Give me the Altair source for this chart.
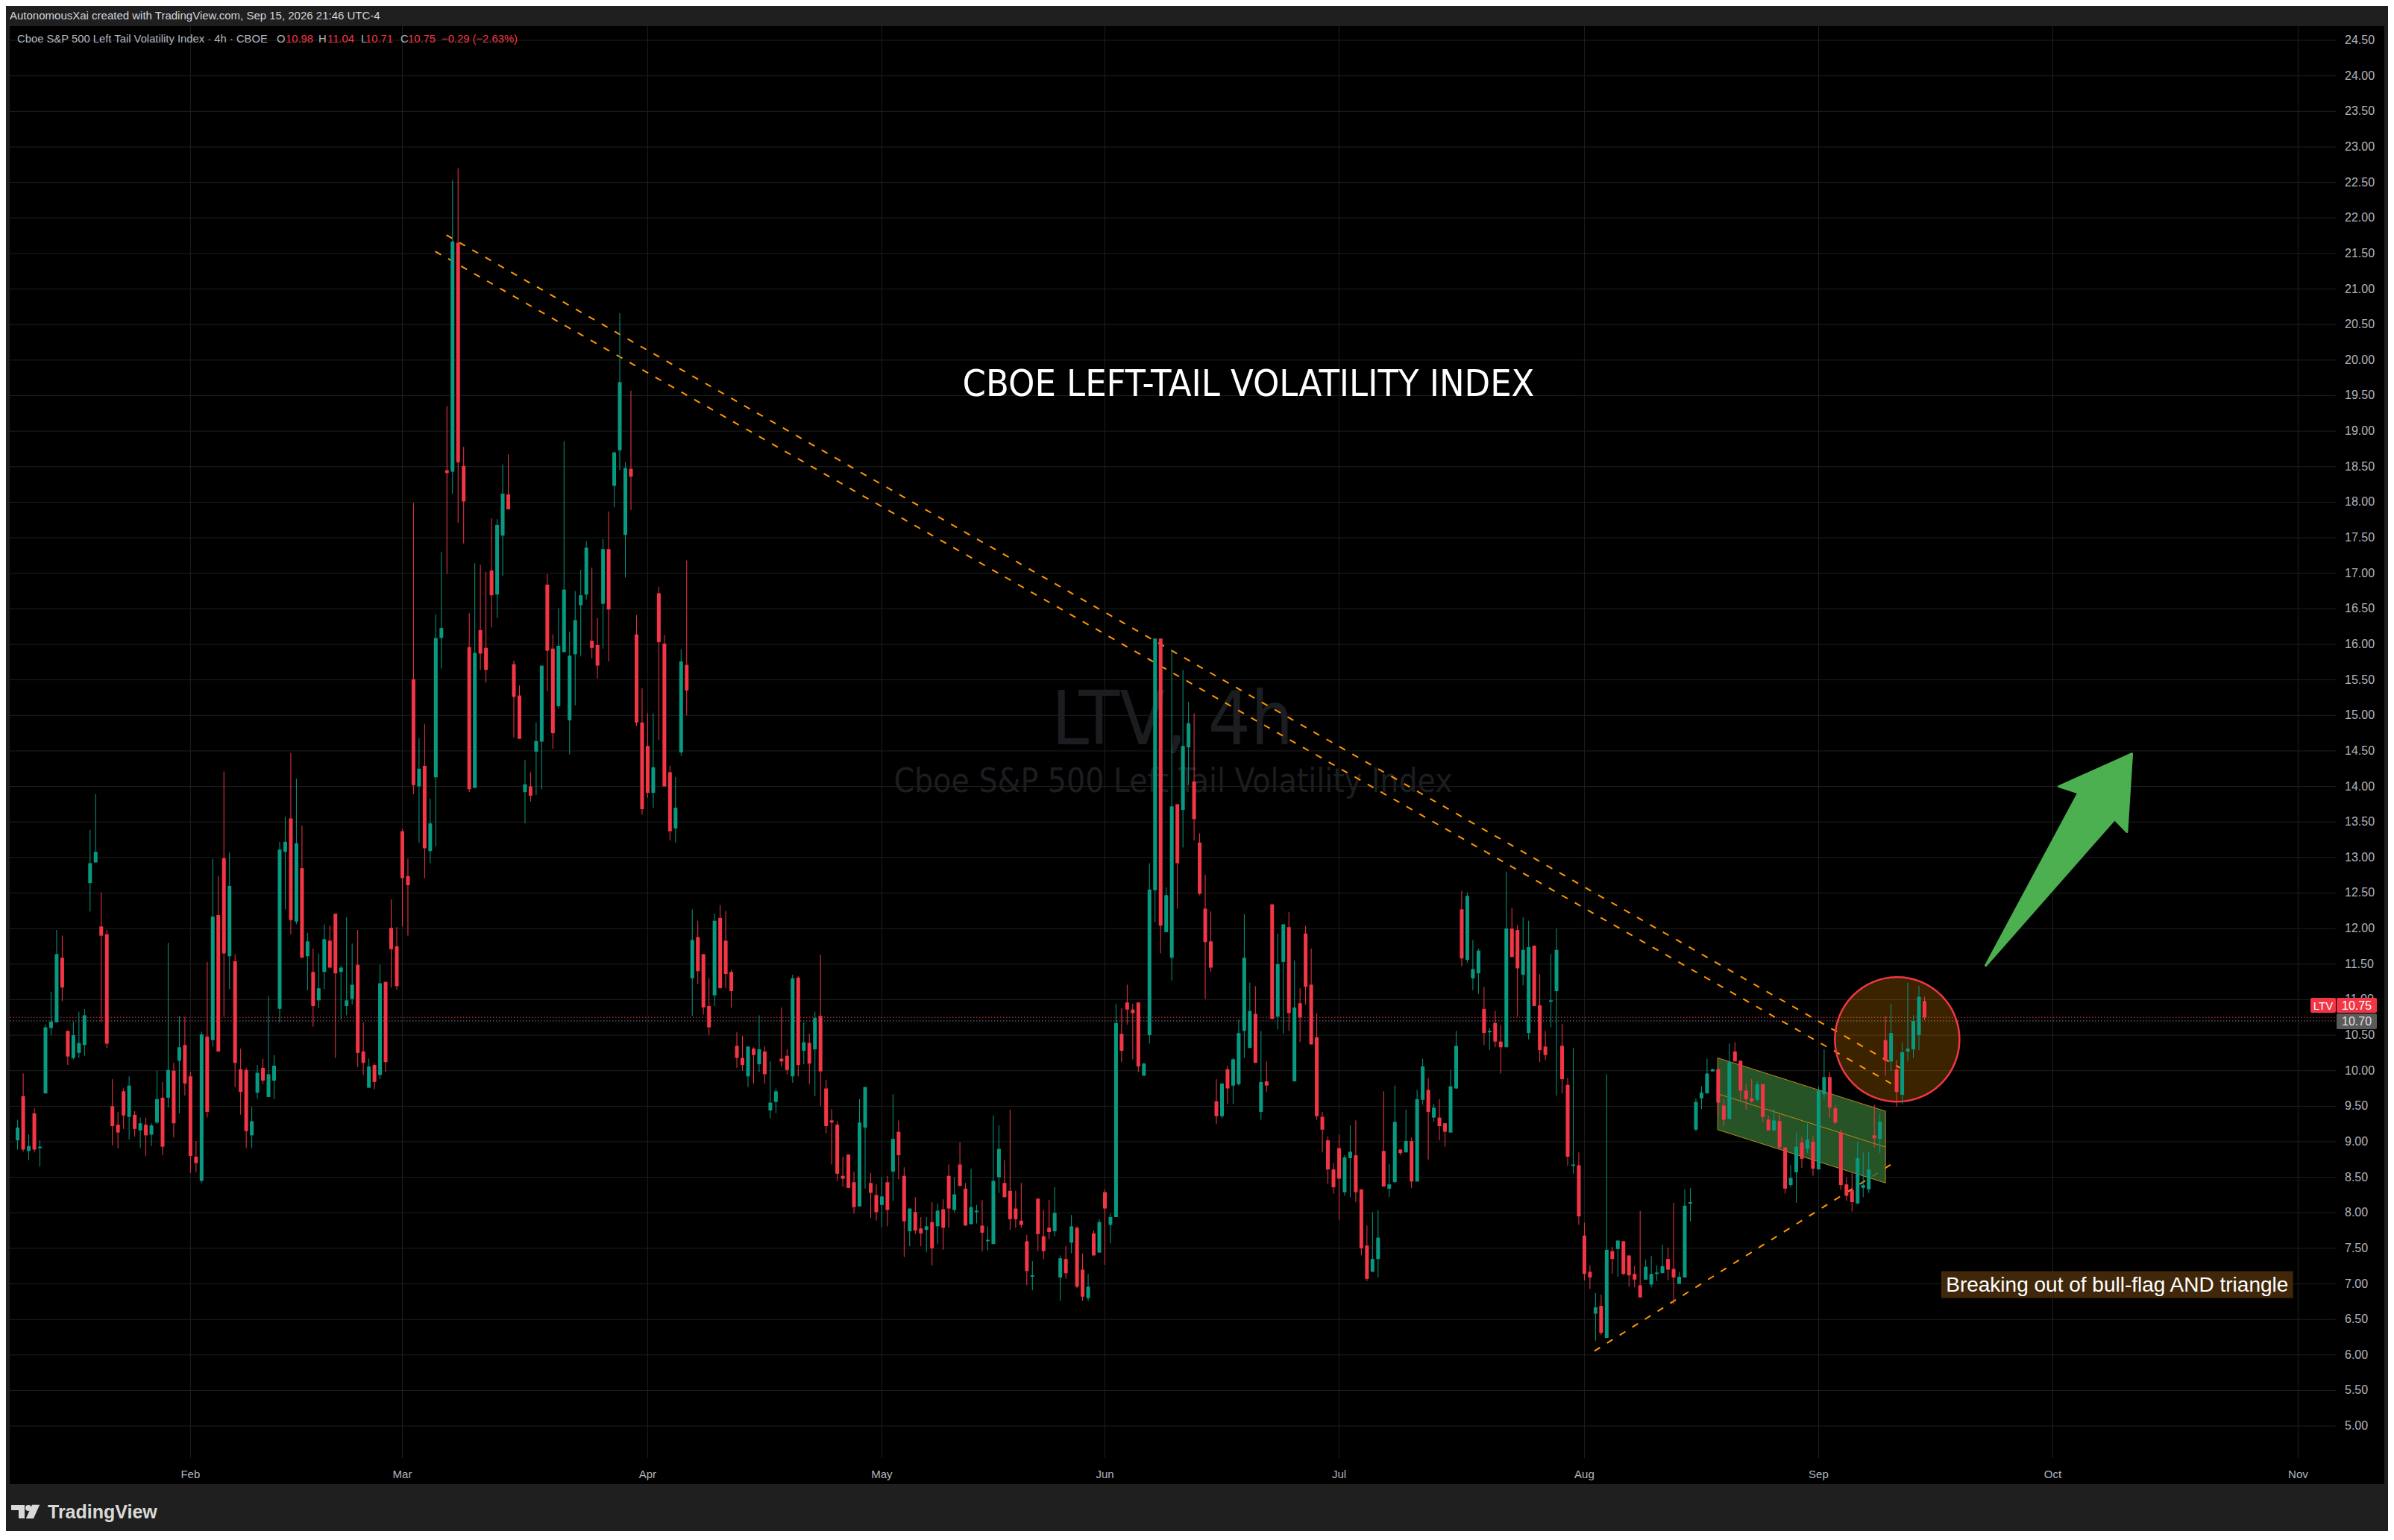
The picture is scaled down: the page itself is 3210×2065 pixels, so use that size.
import altair as alt
import pandas as pd

# ---------------- data (4h candles, bar index 0..342) ----------------
OPEN = [
 9.02, 9.64, 8.87, 9.40, 8.91, 9.68, 10.60, 10.68, 11.59, 10.56,
 10.18, 10.25, 10.36, 12.64, 12.93, 12.03, 11.92, 9.50, 9.24, 9.71,
 9.35, 9.38, 9.16, 9.24, 9.10, 9.27, 9.62, 9.62, 10.00, 10.14,
 10.36, 9.92, 8.79, 8.45, 10.48, 10.43, 12.19, 12.99, 11.61, 11.54,
 10.02, 10.01, 9.09, 9.69, 10.04, 9.63, 9.86, 10.87, 13.08, 13.55,
 12.10, 12.85, 11.61, 11.39, 10.99, 11.39, 11.83, 12.21, 11.39, 10.91,
 11.01, 11.49, 10.27, 9.76, 10.08, 9.94, 11.25, 12.01, 11.75, 13.37,
 12.74, 15.51, 14.00, 14.29, 13.09, 14.13, 16.09, 18.45, 18.43, 21.65,
 18.51, 15.96, 13.98, 16.20, 15.95, 17.04, 16.70, 17.53, 18.11, 15.72,
 15.28, 13.92, 14.00, 14.49, 14.63, 16.84, 15.94, 15.13, 15.89, 14.93,
 15.86, 16.55, 16.70, 16.05, 15.99, 16.57, 17.34, 18.23, 18.73, 17.54,
 18.47, 16.14, 14.90, 14.57, 13.91, 16.72, 16.01, 14.20, 13.41, 14.48,
 15.71, 11.30, 11.88, 11.64, 10.91, 11.06, 12.15, 11.83, 11.39, 10.35,
 10.18, 9.92, 10.31, 10.09, 10.27, 9.44, 9.56, 10.17, 10.21, 9.92,
 11.31, 10.28, 10.39, 10.30, 10.77, 9.75, 9.30, 9.24, 8.52, 8.82,
 8.43, 8.09, 9.20, 8.42, 8.25, 8.11, 8.43, 8.58, 9.14, 8.52,
 7.74, 8.01, 7.78, 7.76, 7.87, 7.81, 8.05, 8.52, 8.04, 8.68,
 8.34, 7.84, 8.01, 7.82, 7.60, 7.56, 8.50, 8.42, 8.31, 8.06,
 7.89, 7.60, 7.10, 8.20, 7.67, 7.79, 7.74, 7.09, 7.35, 7.58,
 7.79, 7.20, 6.80, 7.71, 7.44, 8.29, 7.83, 7.94, 10.52, 10.96,
 10.86, 10.96, 9.93, 10.50, 12.54, 16.08, 11.95, 11.59, 13.75, 13.67,
 14.55, 14.07, 13.21, 12.28, 11.82, 9.57, 9.36, 10.02, 9.79, 9.81,
 10.56, 10.32, 10.80, 9.42, 9.85, 12.34, 10.76, 11.53, 12.02, 9.85,
 10.95, 11.93, 11.21, 10.47, 9.35, 9.02, 8.61, 8.91, 8.29, 8.77,
 8.81, 8.33, 7.54, 7.17, 7.35, 8.87, 8.34, 8.43, 8.89, 8.85,
 9.01, 8.44, 9.59, 9.73, 9.34, 9.34, 9.26, 9.13, 9.75, 12.27,
 11.56, 11.30, 11.37, 10.87, 10.54, 10.67, 10.41, 10.33, 12.00, 11.98,
 11.35, 10.53, 11.76, 10.92, 10.34, 10.97, 11.12, 10.35, 9.80, 8.66,
 8.67, 7.68, 7.17, 6.58, 6.69, 6.24, 7.46, 7.49, 7.60, 7.40,
 7.14, 6.98, 7.06, 6.99, 7.14, 7.15, 7.35, 7.21, 7.00, 7.09,
 8.13, 9.17, 9.61, 9.68, 9.99, 10.02, 9.51, 9.32, 10.27, 10.14,
 9.72, 9.61, 9.59, 9.81, 9.31, 9.16, 9.29, 8.92, 8.39, 8.57,
 8.99, 8.90, 9.00, 8.61, 9.67, 9.91, 9.47, 9.13, 8.40, 8.32,
 8.13, 8.35, 8.33, 9.09, 9.04, 10.43, 10.13, 10.02, 9.66, 10.27,
 10.30, 10.50, 10.98]
HIGH = [
 9.31, 9.96, 9.10, 9.47, 9.02, 10.65, 11.11, 11.98, 11.90, 10.56,
 10.69, 10.83, 10.87, 13.39, 13.89, 12.51, 11.98, 9.88, 9.42, 9.75,
 9.92, 9.43, 9.34, 9.34, 9.26, 10.00, 9.84, 11.80, 10.11, 10.77,
 10.76, 9.98, 9.01, 10.55, 11.53, 12.98, 12.74, 14.21, 13.07, 11.64,
 10.31, 10.04, 9.49, 10.08, 10.17, 11.05, 10.22, 13.22, 13.57, 14.47,
 14.11, 13.45, 11.94, 11.72, 11.65, 12.06, 12.04, 12.21, 11.48, 12.16,
 11.79, 11.98, 10.68, 10.17, 10.10, 11.49, 11.25, 12.41, 12.02, 13.40,
 12.98, 17.99, 14.68, 14.88, 13.83, 16.42, 17.30, 19.35, 22.53, 22.70,
 18.78, 16.44, 17.14, 17.12, 17.02, 17.77, 17.76, 18.53, 18.67, 15.77,
 15.42, 14.37, 14.20, 14.90, 15.70, 16.99, 16.14, 16.51, 18.86, 16.18,
 16.75, 17.05, 17.45, 17.08, 16.37, 17.48, 17.87, 18.71, 20.66, 18.56,
 19.57, 16.41, 15.38, 15.03, 15.03, 16.81, 16.13, 14.29, 14.13, 15.93,
 17.18, 12.27, 12.11, 11.64, 11.30, 12.21, 12.33, 12.25, 11.42, 10.54,
 10.49, 10.34, 10.33, 10.78, 10.34, 10.13, 9.75, 10.89, 10.30, 11.35,
 11.33, 10.68, 10.52, 10.83, 11.63, 9.87, 9.46, 9.29, 8.79, 8.82,
 8.58, 9.60, 9.77, 8.56, 8.40, 8.50, 8.52, 9.67, 9.30, 8.64,
 8.06, 8.22, 7.94, 7.94, 8.15, 8.13, 8.19, 8.68, 8.50, 8.99,
 8.42, 8.62, 8.11, 8.18, 7.81, 9.37, 9.23, 8.74, 9.45, 8.31,
 8.42, 7.69, 7.32, 8.20, 8.04, 8.18, 8.36, 7.40, 7.53, 7.97,
 7.81, 7.43, 7.14, 7.75, 7.91, 8.33, 7.99, 10.94, 10.88, 11.21,
 10.94, 10.96, 10.11, 12.92, 16.08, 16.08, 12.58, 15.92, 13.75, 15.64,
 15.19, 15.03, 13.34, 12.76, 12.24, 9.88, 9.82, 10.07, 10.18, 10.72,
 12.20, 11.24, 11.19, 10.56, 10.13, 12.35, 11.93, 12.06, 12.23, 11.55,
 11.16, 12.04, 11.72, 10.81, 9.42, 9.07, 8.70, 9.10, 8.81, 9.23,
 9.30, 8.33, 7.82, 8.01, 8.04, 9.71, 8.69, 9.79, 8.89, 9.45,
 9.06, 9.73, 10.17, 9.90, 9.53, 9.60, 9.26, 10.01, 10.56, 12.53,
 12.51, 11.84, 11.72, 11.18, 10.60, 10.84, 10.64, 12.80, 12.29, 12.05,
 12.16, 12.11, 11.76, 11.36, 10.56, 11.64, 12.00, 10.66, 9.90, 10.32,
 8.85, 7.86, 7.26, 6.87, 6.85, 9.95, 7.52, 7.61, 7.60, 7.40,
 7.25, 8.03, 7.34, 7.39, 7.26, 7.55, 7.51, 8.14, 7.17, 8.33,
 8.35, 9.61, 9.78, 10.17, 10.03, 10.02, 9.60, 10.38, 10.40, 10.14,
 9.81, 9.88, 9.85, 9.81, 9.37, 9.46, 9.39, 8.92, 8.67, 9.13,
 9.07, 9.26, 9.08, 9.78, 10.30, 9.98, 9.51, 9.17, 8.50, 8.56,
 9.00, 8.85, 8.86, 9.52, 9.40, 10.77, 10.94, 10.15, 10.40, 11.24,
 10.78, 11.19, 11.04]
LOW = [
 8.89, 8.86, 8.74, 8.85, 8.65, 9.68, 10.50, 10.68, 10.98, 10.08,
 10.16, 10.18, 10.21, 12.24, 12.93, 10.69, 10.32, 8.95, 8.91, 9.18,
 9.03, 9.07, 8.91, 8.80, 8.94, 9.25, 8.81, 9.48, 9.06, 9.40,
 9.65, 8.56, 8.57, 8.42, 9.34, 10.34, 10.27, 10.76, 11.15, 9.77,
 9.38, 8.91, 8.91, 9.61, 9.81, 9.63, 9.60, 10.68, 12.27, 11.92,
 12.06, 11.59, 11.13, 10.62, 10.88, 11.15, 11.45, 10.18, 10.72, 10.78,
 10.93, 10.05, 9.94, 9.76, 9.74, 9.88, 9.98, 11.17, 11.14, 12.03,
 11.90, 13.89, 13.21, 12.71, 12.92, 13.16, 15.66, 16.99, 18.12, 17.71,
 17.42, 13.92, 13.98, 15.64, 15.46, 16.24, 16.37, 16.96, 17.90, 14.69,
 14.67, 13.48, 13.79, 13.88, 13.96, 15.34, 14.53, 15.10, 15.89, 14.45,
 15.14, 15.83, 16.63, 15.80, 15.52, 15.94, 15.76, 17.93, 18.45, 16.94,
 17.89, 14.85, 13.60, 13.84, 13.70, 14.65, 14.00, 13.24, 13.21, 14.43,
 15.00, 10.77, 11.22, 10.79, 10.50, 10.91, 11.16, 11.16, 10.89, 10.04,
 10.00, 9.77, 9.82, 9.98, 9.82, 9.33, 9.40, 10.06, 9.95, 9.83,
 9.92, 10.09, 9.81, 9.64, 9.50, 9.12, 8.68, 8.45, 8.37, 8.35,
 7.99, 8.09, 8.34, 7.93, 7.89, 7.80, 7.81, 8.17, 8.47, 7.38,
 7.53, 7.70, 7.53, 7.45, 7.26, 7.56, 7.48, 7.79, 8.00, 8.37,
 7.82, 7.84, 7.85, 7.46, 7.47, 7.56, 8.28, 8.22, 7.76, 7.79,
 7.79, 6.98, 6.91, 7.46, 7.35, 7.63, 7.67, 6.76, 7.07, 7.43,
 6.94, 6.76, 6.76, 7.40, 7.44, 7.27, 7.57, 7.94, 10.12, 10.65,
 10.16, 9.98, 9.93, 10.38, 12.09, 11.65, 11.95, 11.27, 12.28, 13.14,
 14.02, 13.24, 12.47, 11.01, 11.39, 9.25, 9.33, 9.53, 9.53, 9.79,
 10.18, 10.32, 10.11, 9.31, 9.70, 10.73, 10.58, 10.52, 10.56, 9.85,
 10.40, 10.93, 10.37, 9.31, 8.85, 8.41, 8.27, 7.90, 8.24, 8.22,
 8.15, 7.40, 7.04, 7.17, 7.09, 8.37, 8.22, 8.43, 8.81, 8.85,
 8.35, 8.44, 9.52, 8.75, 9.28, 9.02, 8.93, 9.13, 9.74, 11.47,
 11.52, 11.13, 11.08, 10.36, 10.29, 10.33, 9.96, 10.33, 11.60, 10.76,
 11.20, 10.44, 10.91, 10.12, 10.15, 10.61, 9.65, 9.68, 8.66, 8.55,
 7.83, 7.05, 6.93, 6.20, 6.28, 6.24, 7.14, 7.10, 7.12, 6.96,
 6.95, 6.81, 7.06, 6.95, 7.04, 7.15, 7.05, 6.71, 7.00, 7.09,
 7.88, 9.15, 9.46, 9.68, 9.99, 9.37, 9.22, 9.32, 10.13, 9.58,
 9.45, 9.55, 9.57, 9.28, 9.16, 9.16, 8.89, 8.27, 8.36, 8.14,
 8.63, 8.84, 8.52, 8.61, 9.60, 9.34, 9.25, 8.32, 8.17, 8.02,
 8.13, 8.22, 8.28, 8.92, 8.84, 9.93, 10.00, 9.49, 9.53, 10.13,
 10.18, 10.29, 10.71]
CLOSE = [
 9.20, 8.89, 8.94, 8.89, 8.93, 10.61, 10.69, 11.64, 11.17, 10.20,
 10.50, 10.39, 10.78, 12.92, 13.08, 11.90, 10.38, 9.22, 9.13, 9.37,
 9.79, 9.18, 9.26, 9.09, 9.23, 9.60, 8.93, 10.01, 9.26, 10.33,
 9.82, 8.80, 8.70, 10.51, 9.42, 12.17, 10.27, 11.65, 12.60, 10.11,
 9.70, 9.15, 9.29, 9.97, 9.86, 9.95, 10.07, 13.11, 13.22, 12.12,
 13.20, 11.59, 11.82, 10.91, 11.16, 11.85, 11.45, 11.37, 11.45, 10.99,
 11.21, 10.25, 10.11, 10.06, 9.84, 11.23, 10.12, 11.71, 11.19, 12.71,
 12.61, 14.02, 14.25, 13.13, 13.48, 16.09, 16.23, 18.41, 21.67, 18.56,
 18.01, 13.96, 15.88, 15.87, 15.64, 16.69, 17.68, 18.12, 17.90, 15.26,
 14.67, 14.03, 13.87, 14.64, 15.70, 15.91, 14.75, 15.98, 16.77, 15.84,
 16.34, 16.69, 17.36, 15.95, 15.70, 17.34, 16.49, 18.70, 19.69, 18.48,
 18.36, 14.90, 13.68, 13.91, 14.27, 16.03, 14.00, 13.37, 13.70, 15.76,
 15.35, 11.84, 11.40, 10.89, 10.61, 12.11, 11.16, 11.36, 11.12, 10.18,
 10.08, 10.34, 10.22, 10.30, 9.95, 9.55, 9.71, 10.13, 10.01, 11.30,
 10.08, 10.40, 10.10, 10.74, 9.99, 9.22, 9.27, 8.55, 8.48, 8.35,
 8.08, 9.27, 9.77, 8.28, 8.01, 8.23, 8.04, 9.04, 8.81, 7.88,
 8.06, 7.75, 7.71, 7.81, 7.50, 8.03, 7.79, 8.06, 8.26, 8.38,
 7.82, 8.08, 8.03, 7.72, 7.62, 8.45, 8.90, 8.22, 7.91, 7.91,
 7.83, 7.18, 7.12, 7.70, 7.46, 7.73, 8.00, 7.36, 7.15, 7.81,
 6.96, 6.82, 6.96, 7.40, 7.87, 8.06, 7.94, 10.67, 10.28, 10.86,
 10.81, 10.06, 10.10, 12.55, 16.08, 12.04, 12.47, 13.72, 12.92, 14.57,
 14.89, 13.54, 12.49, 11.81, 11.45, 9.36, 9.82, 9.75, 10.16, 10.53,
 11.59, 10.84, 10.11, 9.84, 9.79, 10.73, 11.50, 12.06, 10.81, 10.89,
 10.75, 11.18, 10.37, 9.36, 9.17, 8.61, 8.36, 8.48, 8.78, 8.86,
 8.29, 7.50, 7.07, 7.35, 7.65, 8.37, 8.40, 9.28, 8.84, 9.01,
 8.44, 9.60, 10.06, 9.42, 9.48, 9.22, 9.14, 9.78, 10.35, 11.58,
 12.46, 11.43, 11.69, 10.53, 10.56, 10.41, 10.33, 12.00, 11.60, 11.44,
 11.70, 11.74, 10.91, 10.29, 10.22, 10.99, 11.70, 9.88, 8.79, 8.68,
 7.95, 7.14, 7.09, 6.67, 6.31, 7.48, 7.35, 7.61, 7.14, 7.12,
 7.06, 6.81, 7.24, 7.14, 7.16, 7.25, 7.20, 7.09, 7.10, 8.10,
 8.15, 9.56, 9.69, 9.96, 10.02, 9.55, 9.31, 10.12, 10.13, 9.72,
 9.60, 9.57, 9.81, 9.35, 9.16, 9.30, 8.92, 8.34, 8.49, 8.93,
 8.76, 9.03, 8.62, 9.72, 9.91, 9.48, 9.27, 8.39, 8.24, 8.15,
 8.77, 8.39, 8.61, 9.05, 9.28, 10.14, 10.53, 9.70, 10.26, 10.31,
 10.70, 11.04, 10.75]

MONTHS = ["Feb", "Mar", "Apr", "May", "Jun", "Jul", "Aug", "Sep", "Oct", "Nov"]
MONTH_BAR = [31, 69, 113, 155, 195, 237, 281, 323, 365, 409]
PRICE_TICKS = [5.0 + 0.5 * k for k in range(40)]

# drawings (bar index, price)
TREND_ID = ["upper", "upper", "lower", "lower", "rise", "rise"]
TREND_X = [76.9, 337.6, 74.9, 336.0, 282.8, 336.2]
TREND_Y = [21.76, 10.04, 21.53, 9.82, 6.055, 8.69]

FLAG_X = [304.9, 335.0, 335.0, 304.9, 304.9]
FLAG_Y = [10.18, 9.43, 8.42, 9.17, 10.18]
FLAG_MID_X = [304.9, 335.0]
FLAG_MID_Y = [9.675, 8.925]

CIRCLE_X = [337.1]
CIRCLE_Y = [10.44]

ARROW_X = [352.9, 369.6, 366.1, 379.2, 378.3, 376.1, 352.9]
ARROW_Y = [11.47, 13.91, 14.00, 14.46, 13.36, 13.54, 11.47]

NOTE_TEXT = "Breaking out of bull-flag AND triangle"
NOTE_BOX_X = [345.0, 408.1]
NOTE_BOX_Y = [6.80, 7.18]

LAST_PRICE = 10.75
PREV_CLOSE = 10.70

assert len(OPEN) == len(HIGH) == len(LOW) == len(CLOSE) == 343

# ---------------- styling ----------------
W, H = 3119, 1920
PAD = {"left": 5, "top": 27, "right": 70, "bottom": 98}
RIGHT_EDGE = W + PAD["right"]
BOTTOM_EDGE = H + PAD["bottom"]
GREEN = "#089981"
RED = "#f23645"
ORANGE = "#ff9800"
FRAME = "#1f1f1f"
GRID = "#1f1f1f"
AXIS_TXT = "#b2b5be"
UI = "Liberation Sans, Arial, sans-serif"
NARROW = "Liberation Sans Narrow, DejaVu Sans Condensed, Roboto Condensed, Liberation Sans, sans-serif"

XS = alt.Scale(domain=[-0.75, 415.1], nice=False, zero=False)
YS = alt.Scale(domain=[4.55, 24.70], nice=False, zero=False)

df = pd.DataFrame({"i": range(len(OPEN)), "open": OPEN, "high": HIGH,
                   "low": LOW, "close": CLOSE})
one = pd.DataFrame({"a": [0]})
price_df = pd.DataFrame({"p": PRICE_TICKS, "lbl": [f"{v:.2f}" for v in PRICE_TICKS]})
month_df = pd.DataFrame({"m": MONTH_BAR, "lbl": MONTHS})

cond = alt.condition("datum.close >= datum.open", alt.value(GREEN), alt.value(RED))


def X(field):
    return alt.X(field, scale=XS, axis=None)


def Y(field):
    return alt.Y(field, scale=YS, axis=None)


def px_rect(x0, x1, y0, y1, color, **kw):
    return alt.Chart(one).mark_rect(color=color, **kw).encode(
        x=alt.value(x0), x2=alt.value(x1), y=alt.value(y0), y2=alt.value(y1))


def px_text(x, y, txt, **kw):
    return alt.Chart(one).mark_text(text=txt, **kw).encode(x=alt.value(x), y=alt.value(y))


layers = []

# grid
layers.append(alt.Chart(price_df).mark_rule(color=GRID, strokeWidth=1).encode(
    y=Y("p:Q"), x=alt.value(0), x2=alt.value(W)))
layers.append(alt.Chart(month_df).mark_rule(color=GRID, strokeWidth=1).encode(
    x=X("m:Q"), y=alt.value(0), y2=alt.value(H)))

# frame around black panel
layers += [
    px_rect(-13, RIGHT_EDGE, -35, 0, FRAME),
    px_rect(-13, 0, -35, BOTTOM_EDGE, FRAME),
    px_rect(3184, RIGHT_EDGE, -35, BOTTOM_EDGE, FRAME),
    px_rect(-13, RIGHT_EDGE, 1955, BOTTOM_EDGE, FRAME),
]

# watermark
layers += [
    px_text(1559, 963, "LTV, 4h", font=NARROW, fontSize=100, color="#1c1d20",
            align="center", baseline="alphabetic"),
    px_text(1560, 1027, "Cboe S&P 500 Left Tail Volatility Index", font=NARROW,
            fontSize=44, color="#1c1d20", align="center", baseline="alphabetic"),
]

# last price / previous close dotted lines
lines_df = pd.DataFrame({"p": [LAST_PRICE, PREV_CLOSE], "c": [RED, "#787b86"]})
layers.append(
    alt.Chart(lines_df).mark_rule(strokeDash=[1.5, 2.5], strokeWidth=1).encode(
        y=Y("p:Q"), x=alt.value(0), x2=alt.value(W), color=alt.Color("c:N", scale=None))
)

# trend lines
trend_df = pd.DataFrame({"id": TREND_ID, "x": TREND_X, "y": TREND_Y})
layers.append(
    alt.Chart(trend_df).mark_line(color=ORANGE, strokeWidth=2, strokeDash=[9, 11]).encode(
        x=X("x:Q"), y=Y("y:Q"), detail="id:N")
)

# bull flag channel
flag_df = pd.DataFrame({"x": FLAG_X, "y": FLAG_Y, "k": range(len(FLAG_X))})
layers.append(
    alt.Chart(flag_df).mark_line(fill="#2e632e", fillOpacity=0.85, stroke="#b98a1c",
                                 strokeWidth=1).encode(
        x=X("x:Q"), y=Y("y:Q"), order="k:Q")
)
mid_df = pd.DataFrame({"x": FLAG_MID_X, "y": FLAG_MID_Y})
layers.append(
    alt.Chart(mid_df).mark_line(color="#b98a1c", strokeWidth=1).encode(x=X("x:Q"), y=Y("y:Q"))
)

# breakout circle
circ_df = pd.DataFrame({"x": CIRCLE_X, "y": CIRCLE_Y})
layers.append(
    alt.Chart(circ_df).mark_point(shape="circle", size=27900, fill=ORANGE, fillOpacity=0.23,
                                  stroke=RED, strokeWidth=2.5, opacity=1).encode(
        x=X("x:Q"), y=Y("y:Q"))
)

# candles
layers.append(alt.Chart(df).mark_rule(strokeWidth=1).encode(
    x=X("i:Q"), y=Y("low:Q"), y2="high:Q", color=cond))
layers.append(alt.Chart(df).mark_bar(size=5).encode(
    x=X("i:Q"), y=Y("open:Q"), y2="close:Q", color=cond))

# arrow
arrow_df = pd.DataFrame({"x": ARROW_X, "y": ARROW_Y, "k": range(len(ARROW_X))})
layers.append(
    alt.Chart(arrow_df).mark_line(fill="#4caf50", stroke="#4caf50", strokeWidth=3,
                                  strokeJoin="round").encode(
        x=X("x:Q"), y=Y("y:Q"), order="k:Q")
)

# note box
note_df = pd.DataFrame({"x0": [NOTE_BOX_X[0]], "x1": [NOTE_BOX_X[1]],
                        "y0": [NOTE_BOX_Y[0]], "y1": [NOTE_BOX_Y[1]],
                        "xm": [sum(NOTE_BOX_X) / 2], "ym": [sum(NOTE_BOX_Y) / 2]})
layers.append(
    alt.Chart(note_df).mark_rect(color="#40270a").encode(
        x=X("x0:Q"), x2="x1:Q", y=Y("y0:Q"), y2="y1:Q")
)
layers.append(
    alt.Chart(note_df).mark_text(text=NOTE_TEXT, color="#ffffff", fontSize=28, font=UI,
                                 align="center", baseline="middle", dy=1).encode(
        x=X("xm:Q"), y=Y("ym:Q"))
)

# title
layers.append(px_text(1661, 496, "CBOE LEFT-TAIL VOLATILITY INDEX", font=NARROW, fontSize=50,
                      color="#ffffff", align="center", baseline="alphabetic"))

# axis labels
layers.append(alt.Chart(price_df).mark_text(font=UI, fontSize=16, color=AXIS_TXT,
                                            align="left", baseline="middle").encode(
    y=Y("p:Q"), x=alt.value(W + 12), text="lbl:N"))
layers.append(alt.Chart(month_df).mark_text(font=UI, fontSize=15, color=AXIS_TXT,
                                            align="center", baseline="middle").encode(
    x=X("m:Q"), y=alt.value(H + 22), text="lbl:N"))

# price tags (drawn over the axis labels, as in the reference)
layers += [
    px_rect(3085, 3119, 1303, 1323, RED, cornerRadius=2),
    px_rect(3120, 3174, 1303, 1323, RED, cornerRadius=2),
    px_rect(3120, 3174, 1324, 1345, "#5a5a5a", cornerRadius=2),
    px_text(3102, 1314, "LTV", font=UI, fontSize=15, color="#ffffff", align="center",
            baseline="middle"),
    px_text(3147, 1314, f"{LAST_PRICE:.2f}", font=UI, fontSize=16, color="#ffffff",
            align="center", baseline="middle"),
    px_text(3147, 1335, f"{PREV_CLOSE:.2f}", font=UI, fontSize=16, color="#e0e0e0",
            align="center", baseline="middle"),
]

# header texts
layers.append(px_text(0, -9, "AutonomousXai created with TradingView.com, Sep 15, 2026 21:46 UTC-4",
                      font=UI, fontSize=15, color="#d1d4dc", align="left",
                      baseline="alphabetic"))
legend_items = [
    (10, "Cboe S&P 500 Left Tail Volatility Index · 4h · CBOE", AXIS_TXT),
    (358, "O", AXIS_TXT), (370, "10.98", RED),
    (414, "H", AXIS_TXT), (426, "11.04", RED),
    (471, "L", AXIS_TXT), (477, "10.71", RED),
    (524, "C", AXIS_TXT), (534, "10.75", RED),
    (579, "−0.29 (−2.63%)", RED),
]
for lx, lt, lc in legend_items:
    layers.append(px_text(lx, 18, lt, font=UI, fontSize=14.8, color=lc, align="left",
                          baseline="middle"))

# TradingView logo
LOGO = "#d9d9d9"
layers += [
    px_rect(2, 20, 1983, 1990, LOGO),
    px_rect(12, 20, 1983, 2001, LOGO),
    alt.Chart(one).mark_point(shape="circle", size=64, filled=True, color=LOGO,
                              opacity=1).encode(x=alt.value(25), y=alt.value(1987)),
    alt.Chart(one).mark_point(shape="M -0.1 -1 L 1 -1 L 0.1 1 L -1 1 Z", size=340,
                              filled=True, color=LOGO, opacity=1).encode(
        x=alt.value(31), y=alt.value(1992)),
    px_text(51, 2001, "TradingView", font=UI, fontSize=25, fontWeight="bold",
            color=LOGO, align="left", baseline="alphabetic"),
]

chart = alt.layer(*layers).properties(
    width=W, height=H,
    autosize=alt.AutoSizeParams(type="none"),
    padding=PAD,
).configure(background="#000000").configure_view(strokeWidth=0, fill="#000000")

chart.save("out.html", embed_options={"renderer": "svg", "actions": False})
